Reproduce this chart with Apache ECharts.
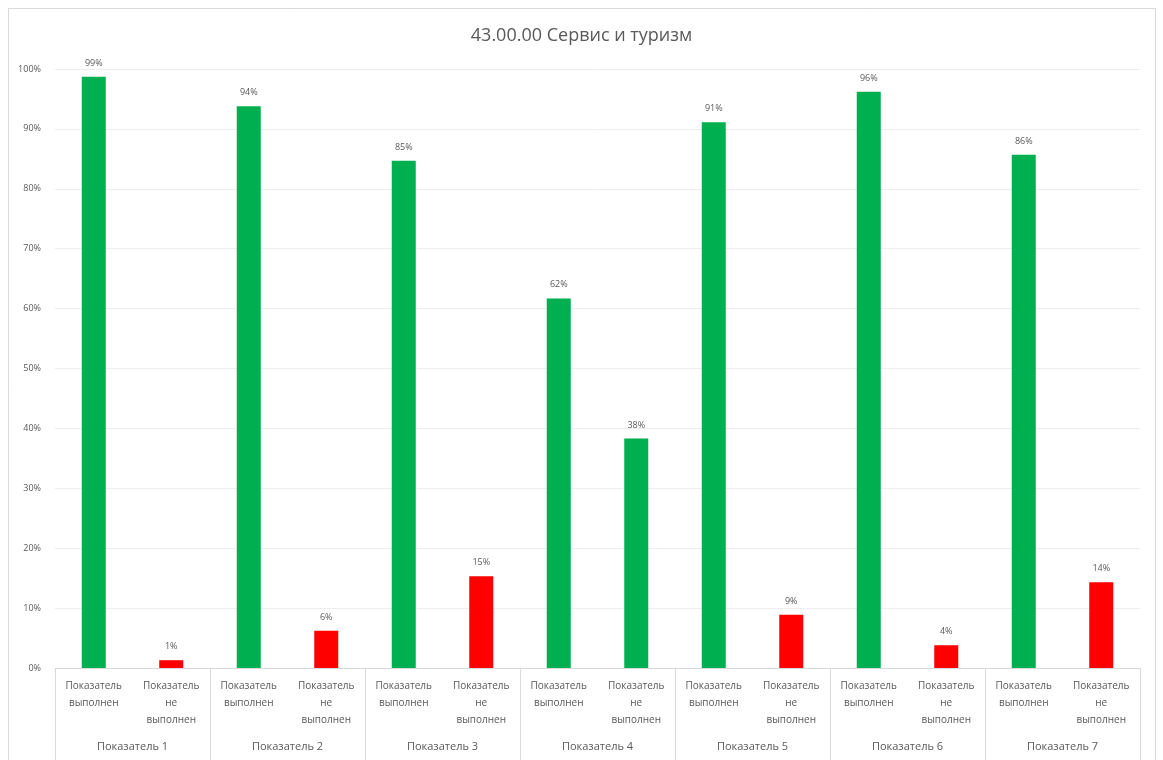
<!DOCTYPE html>
<html><head><meta charset="utf-8">
<script src="https://cdn.jsdelivr.net/npm/echarts@6/dist/echarts.min.js"></script>
<style>html,body{margin:0;padding:0;background:#fff}#c{width:1163px;height:760px}</style>
</head><body><div id="c"></div>
<script>
const title = "43.00.00 Сервис и туризм";
const groups = ["Показатель 1","Показатель 2","Показатель 3","Показатель 4","Показатель 5","Показатель 6","Показатель 7"];
const subDone = "Показатель\nвыполнен";
const subNotDone = "Показатель\nне\nвыполнен";
const doneValues = [98.7, 93.8, 84.7, 61.7, 91.1, 96.2, 85.7];
const notDoneValues = [1.3, 6.2, 15.3, 38.3, 8.9, 3.8, 14.3];
const yTicks = [0,10,20,30,40,50,60,70,80,90,100];

const cats = [], data = [];
groups.forEach((g,i)=>{
  cats.push(subDone); data.push({value: doneValues[i], itemStyle:{color:'#00b050'}});
  cats.push(subNotDone); data.push({value: notDoneValues[i], itemStyle:{color: i===3 ? '#00b050' : '#ff0000'}});
});

const chart = echarts.init(document.getElementById('c'));
const txt = '#595959';
chart.setOption({
  animation:false,
  backgroundColor:'#fff',
  title:{text:title,left:'center',top:22,textStyle:{fontSize:18,fontWeight:'normal',color:txt,fontFamily:'Open Sans'}},
  graphic:[{type:'rect',shape:{x:8.5,y:8.5,width:1147,height:760},style:{fill:'none',stroke:'#d9d9d9',lineWidth:1},silent:true}],
  grid:{left:55,right:23,top:69,bottom:92},
  xAxis:[{
    type:'category',data:cats,
    axisLine:{lineStyle:{color:'#d9d9d9'}},
    axisTick:{show:false},
    axisLabel:{interval:0,fontSize:10,color:txt,lineHeight:17,margin:10,fontFamily:'Open Sans'}
  },{
    type:'category',data:groups,position:'bottom',
    axisLine:{show:false},
    axisTick:{show:true,length:92,lineStyle:{color:'#d9d9d9'}},
    axisLabel:{interval:0,fontSize:11,color:txt,margin:73,fontFamily:'Open Sans'}
  }],
  yAxis:{type:'value',min:0,max:100,interval:10,
    axisLabel:{formatter:v=>v+'%',fontSize:9,color:txt,margin:14,fontFamily:'Open Sans'},
    axisLine:{show:false},axisTick:{show:false},
    splitLine:{lineStyle:{color:'#eeeeee'}}},
  series:[{type:'bar',xAxisIndex:0,data:data,barWidth:24,
    label:{show:true,position:'top',fontSize:9,color:txt,distance:9,formatter:p=>Math.round(p.value)+'%',fontFamily:'Open Sans'}}]
});
</script></body></html>
